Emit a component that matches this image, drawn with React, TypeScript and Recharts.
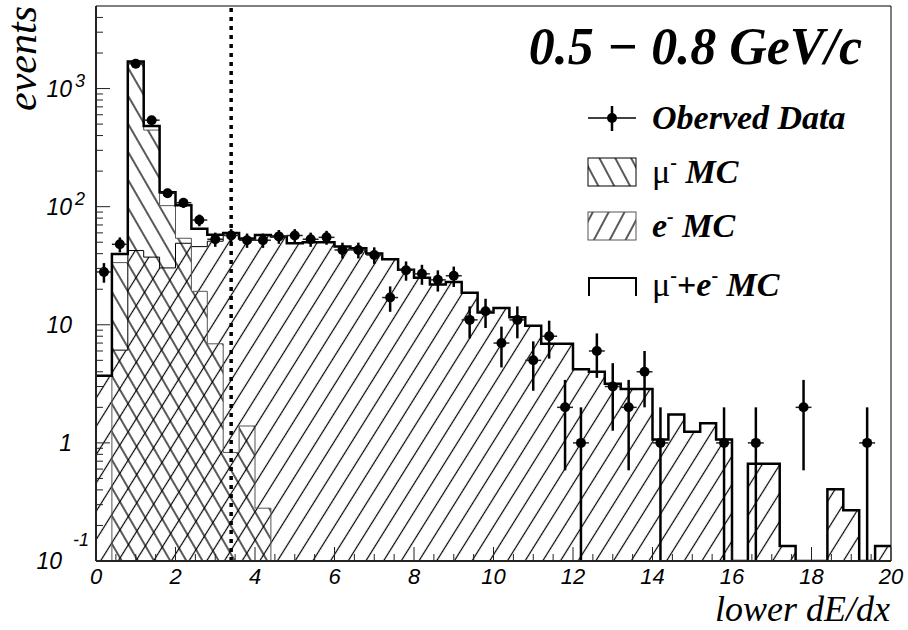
import React from "react";
import {
  ComposedChart,
  Area,
  Line,
  Scatter,
  XAxis,
  YAxis,
  ErrorBar,
  ReferenceLine,
  ReferenceArea,
} from "recharts";

// 50 bins of width 0.4 over lower dE/dx = 0 .. 20
const BIN_WIDTH = 0.4;
const X_MAX = 20;
const Y_MIN = 0.1;
const Y_MAX = 5000;
const CUT = 3.4;

const MU_MC = [
  0, 33.6, 1650, 445, 102, 54, 19.2, 6.9, 0.83, 1.39,
  0.28, 0, 0, 0, 0, 0, 0, 0, 0, 0,
  0, 0, 0, 0, 0, 0, 0, 0, 0, 0,
  0, 0, 0, 0, 0, 0, 0, 0, 0, 0,
  0, 0, 0, 0, 0, 0, 0, 0, 0, 0,
];

const E_MC = [
  3.7, 6.1, 42.5, 37.4, 30.3, 49, 45.9, 51, 59, 52.5,
  57.4, 55.8, 49, 50, 50, 46, 44.5, 40.2, 35.8, 29.2,
  25.0, 21.9, 23.0, 18.7, 12.7, 13.9, 11.6, 9.8, 6.9, 6.9,
  4.2, 4.0, 3.16, 2.86, 2.86, 1.07, 1.74, 1.24, 1.47, 1.07,
  0, 0.667, 0.667, 0.134, 0, 0, 0.405, 0.269, 0, 0.134,
];

const OBSERVED = [
  28, 48, 1620, 540, 130, 108, 77, 53, 57, 52,
  52, 56, 57, 53, 55, 43, 43, 39, 17, 29,
  27, 24, 26, 11, 13, 7, 11, 5, 8, 2,
  1, 6, 3, 2, 4, 1, 0, 0, 0, 1,
  0, 1, 0, 0, 2, 0, 0, 0, 1, 0,
];

const X_LABEL_VALUES = [0, 2, 4, 6, 8, 10, 12, 14, 16, 18, 20];
const X_LABELS = ["0", "2", "4", "6", "8", "10", "12", "14", "16", "18", "20"];
const Y_MAJOR = [0.1, 1, 10, 100, 1000];
const Y_LABEL_BASE = ["10", "1", "10", "10", "10"];
const Y_LABEL_EXP = ["-1", "", "", "2", "3"];

const X_TICKS: number[] = [];
for (let i = 0; i <= 40; i++) X_TICKS.push(i * 0.5);
const Y_TICKS: number[] = [];
Y_MAJOR.forEach((d) => {
  for (let m = 1; m <= 9; m++) if (d * m < Y_MAX) Y_TICKS.push(d * m);
});

const edges = E_MC.map((_, i) => Math.round(i * BIN_WIDTH * 10) / 10);
const floor = (v: number) => Math.max(v, Y_MIN);

const histRows = E_MC.map((e, i) => ({
  x: edges[i],
  mu: floor(MU_MC[i]),
  e: floor(e),
  sum: floor(MU_MC[i] + e),
}));
histRows.push({ ...histRows[histRows.length - 1], x: X_MAX });

const points = OBSERVED.map((n, i) => ({
  x: edges[i] + BIN_WIDTH / 2,
  y: n,
  yerr: [Math.min(Math.sqrt(n), n - Y_MIN), Math.sqrt(n)],
  xerr: BIN_WIDTH / 2,
})).filter((p) => p.y > 0);

const SANS = "'Liberation Sans', Arial, sans-serif";
const SERIF = "'Liberation Serif', 'Times New Roman', serif";

function XTick(props: any) {
  const { x, y, payload } = props;
  const idx = X_LABEL_VALUES.indexOf(payload.value);
  const len = idx >= 0 ? 14 : 7;
  return (
    <g>
      <line x1={x} x2={x} y1={y} y2={y - len} stroke="#222" strokeWidth={1} />
      {idx >= 0 && (
        <text x={x} y={y + 23} textAnchor="middle" fontFamily={SANS} fontStyle="italic" fontSize={22} fill="#000">
          {X_LABELS[idx]}
        </text>
      )}
    </g>
  );
}

function YTick(props: any) {
  const { x, y, payload } = props;
  const v = payload.value;
  const idx = Y_MAJOR.findIndex((m) => Math.abs(m - v) / m < 1e-6);
  const len = idx >= 0 ? 14 : 7;
  const exp = idx >= 0 ? Y_LABEL_EXP[idx] : "";
  const neg = exp.startsWith("-");
  return (
    <g>
      <line x1={x} x2={x + len} y1={y} y2={y} stroke="#222" strokeWidth={1} />
      {idx >= 0 && (
        <g fontFamily={SANS} fontStyle="italic" fill="#000">
          <text x={neg ? x - 34 : x - 24} y={y + 8} textAnchor="end" fontSize={23}>
            {Y_LABEL_BASE[idx]}
          </text>
          {exp && (
            <text x={neg ? x - 23 : x - 21} y={neg ? y - 15 : y - 2} textAnchor="start" fontSize={18}>
              {exp}
            </text>
          )}
        </g>
      )}
    </g>
  );
}

const DataDot = (p: any) => <circle cx={p.cx} cy={p.cy} r={5} fill="#000" />;

export default function App() {
  return (
    <div style={{ position: "absolute", left: 0, top: 0, width: 908, height: 630, background: "#fff" }}>
      <svg width={0} height={0} style={{ position: "absolute" }}>
        <defs>
          <pattern id="hatchE" patternUnits="userSpaceOnUse" width={15} height={15} patternTransform="rotate(32)">
            <line x1={7.5} y1={0} x2={7.5} y2={15} stroke="#000" strokeWidth={1.2} />
          </pattern>
          <pattern id="hatchMu" patternUnits="userSpaceOnUse" width={14} height={14} patternTransform="rotate(-30)">
            <line x1={7} y1={0} x2={7} y2={14} stroke="#000" strokeWidth={1.3} />
          </pattern>
          <pattern id="legMu" patternUnits="userSpaceOnUse" width={14} height={14} patternTransform="rotate(-28)">
            <line x1={7} y1={0} x2={7} y2={14} stroke="#000" strokeWidth={1.3} />
          </pattern>
          <pattern id="legE" patternUnits="userSpaceOnUse" width={14} height={14} patternTransform="rotate(28)">
            <line x1={7} y1={0} x2={7} y2={14} stroke="#000" strokeWidth={1.3} />
          </pattern>
        </defs>
      </svg>
      <ComposedChart width={908} height={630} data={histRows} margin={{ top: 6, right: 17, bottom: 0, left: 0 }}>
        <XAxis
          dataKey="x"
          type="number"
          domain={[0, X_MAX]}
          ticks={X_TICKS}
          interval={0}
          tickSize={0}
          tickMargin={0}
          tickLine={false}
          tick={<XTick />}
          height={69}
          axisLine={{ stroke: "#222", strokeWidth: 2 }}
          allowDataOverflow
        />
        <YAxis
          type="number"
          scale="log"
          domain={[Y_MIN, Y_MAX]}
          ticks={Y_TICKS}
          interval={0}
          tickSize={0}
          tickMargin={0}
          tickLine={false}
          tick={<YTick />}
          width={96}
          axisLine={{ stroke: "#222", strokeWidth: 2 }}
          allowDataOverflow
        />
        <ReferenceArea x1={0} x2={X_MAX} y1={Y_MIN} y2={Y_MAX} fill="none" stroke="#000" strokeWidth={1} />
        <Area
          type="stepAfter"
          dataKey="e"
          baseValue={Y_MIN}
          stroke="#000"
          strokeWidth={1}
          fill="url(#hatchE)"
          fillOpacity={1}
          dot={false}
          activeDot={false}
          isAnimationActive={false}
        />
        <Area
          type="stepAfter"
          dataKey="mu"
          baseValue={Y_MIN}
          stroke="#555"
          strokeWidth={1}
          fill="url(#hatchMu)"
          fillOpacity={1}
          dot={false}
          activeDot={false}
          isAnimationActive={false}
        />
        <Line
          type="stepAfter"
          dataKey="sum"
          stroke="#000"
          strokeWidth={2.5}
          dot={false}
          activeDot={false}
          isAnimationActive={false}
        />
        <Scatter data={points} dataKey="y" shape={DataDot} isAnimationActive={false}>
          <ErrorBar dataKey="yerr" direction="y" width={0} stroke="#000" strokeWidth={2.5} />
          <ErrorBar dataKey="xerr" direction="x" width={0} stroke="#222" strokeWidth={1.5} />
        </Scatter>
        <ReferenceLine x={CUT} stroke="#000" strokeWidth={3.5} strokeDasharray="4 5" />
      </ComposedChart>
      <svg width={908} height={630} style={{ position: "absolute", left: 0, top: 0, pointerEvents: "none" }}>
        <text x={862} y={64} textAnchor="end" fontFamily={SERIF} fontWeight="bold" fontStyle="italic" fontSize={52}>
          0.5 − 0.8 GeV/c
        </text>
        <g>
          <line x1={588} x2={636} y1={118} y2={118} stroke="#000" strokeWidth={1.5} />
          <line x1={612} x2={612} y1={106} y2={131} stroke="#000" strokeWidth={2.5} />
          <circle cx={612} cy={118} r={5} fill="#000" />
          <text x={652} y={129} fontFamily={SERIF} fontWeight="bold" fontStyle="italic" fontSize={34}>
            Oberved Data
          </text>
        </g>
        <g>
          <rect x={588} y={158} width={48} height={28} fill="url(#legMu)" stroke="#000" strokeWidth={1} />
          <text x={652} y={183} fontFamily={SERIF} fontSize={34}>
            <tspan>μ</tspan>
            <tspan fontSize={20} fontWeight="bold" dy={-14}>-</tspan>
            <tspan dy={14} fontWeight="bold" fontStyle="italic"> MC</tspan>
          </text>
        </g>
        <g>
          <rect x={588} y={212} width={48} height={28} fill="url(#legE)" stroke="#555" strokeWidth={1} />
          <text x={652} y={237} fontFamily={SERIF} fontSize={34} fontWeight="bold" fontStyle="italic">
            <tspan>e</tspan>
            <tspan fontSize={20} dy={-14}>-</tspan>
            <tspan dy={14}> MC</tspan>
          </text>
        </g>
        <g>
          <path d="M589 296 V278 H636 V296" fill="none" stroke="#000" strokeWidth={2} />
          <text x={652} y={296} fontFamily={SERIF} fontSize={34}>
            <tspan>μ</tspan>
            <tspan fontSize={20} fontWeight="bold" dy={-14}>-</tspan>
            <tspan dy={14} fontWeight="bold">+</tspan>
            <tspan fontWeight="bold" fontStyle="italic">e</tspan>
            <tspan fontSize={20} fontWeight="bold" dy={-14}>-</tspan>
            <tspan dy={14} fontWeight="bold" fontStyle="italic"> MC</tspan>
          </text>
        </g>
        <text transform="translate(36,6) rotate(-90)" textAnchor="end" fontFamily={SERIF} fontStyle="italic" fontSize={42}>
          events
        </text>
        <text x={890} y={621} textAnchor="end" fontFamily={SERIF} fontStyle="italic" fontSize={36}>
          lower dE/dx
        </text>
      </svg>
    </div>
  );
}
